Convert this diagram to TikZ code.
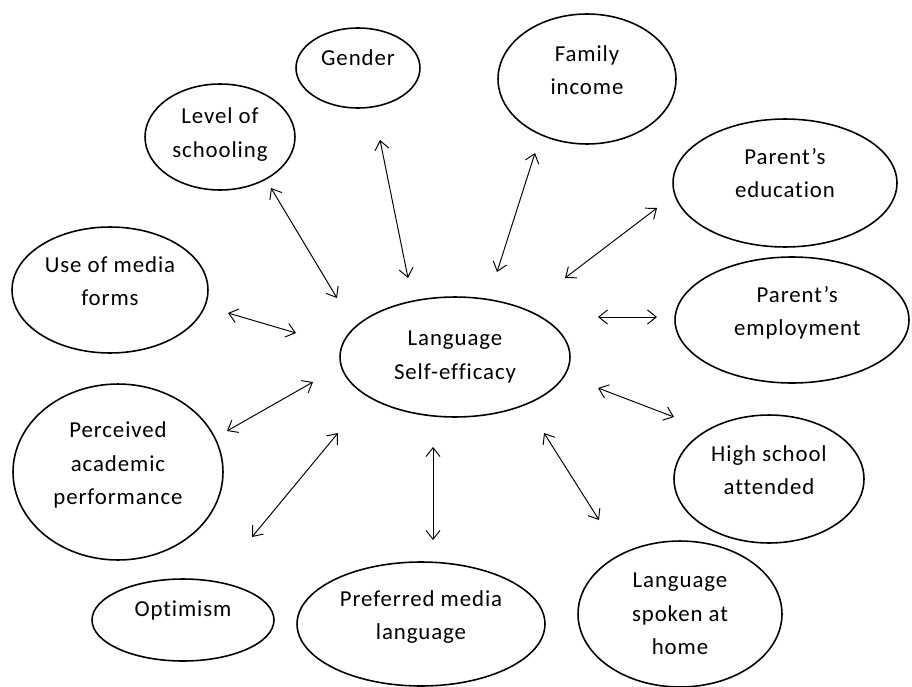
\documentclass[tikz,border=0pt]{standalone}
\usepackage{fontspec}
\setmainfont{Carlito}[Ligatures=NoCommon,LetterSpace=4]
\usetikzlibrary{shapes.geometric,arrows.meta}

\begin{document}
\begin{tikzpicture}[x=0.02cm,y=-0.02cm,
  bub/.style={draw, ellipse, line width=0.9pt, inner sep=0pt},
  txt/.style={align=center, font=\fontsize{13}{19}\selectfont},
  link/.style={{Straight Barb[length=5pt,width=8pt]}-{Straight Barb[length=5pt,width=8pt]}, line width=0.55pt}]
\useasboundingbox (0,0) rectangle (912,686);

% Central factor
\node[bub, minimum width=4.6cm, minimum height=2.4cm,
  label={[txt]center:Language\\Self-efficacy}] (lse) at (455,357) {};

% Factors around it
\node[bub, minimum width=2.48cm, minimum height=1.6cm,
  label={[txt,yshift=5.7pt]center:Gender}] (gender) at (358,68) {};
\node[bub, minimum width=3.0cm, minimum height=2.12cm,
  label={[txt,yshift=1.5pt]center:Level of\\schooling}] (school) at (220,137) {};
\node[bub, minimum width=3.92cm, minimum height=2.52cm,
  label={[txt,yshift=5.1pt]center:Use of media\\forms}] (media) at (110,290) {};
\node[bub, minimum width=3.56cm, minimum height=2.6cm,
  label={[txt,yshift=5.1pt]center:Family\\income}] (income) at (587,79) {};
\node[bub, minimum width=4.48cm, minimum height=2.56cm,
  label={[txt,yshift=5.7pt]center:Parent’s\\education}] (peduc) at (785,183) {};
\node[bub, minimum width=4.68cm, minimum height=2.52cm,
  label={[txt,yshift=4pt,xshift=3pt]center:Parent’s\\employment}] (pemploy) at (792,320) {};
\node[bub, minimum width=4.2cm, minimum height=3.52cm,
  label={[txt,yshift=4pt]center:Perceived\\academic\\performance}] (perf) at (118,472) {};
\node[bub, minimum width=3.64cm, minimum height=1.64cm,
  label={[txt,yshift=5.7pt]center:Optimism}] (optim) at (183,620) {};
\node[bub, minimum width=4.96cm, minimum height=2.48cm,
  label={[txt,yshift=4pt]center:Preferred media\\language}] (prefer) at (421,624) {};
\node[bub, minimum width=4.08cm, minimum height=2.92cm,
  label={[txt]center:Language\\spoken at\\home}] (home) at (680,614) {};
\node[bub, minimum width=3.8cm, minimum height=2.56cm,
  label={[txt,yshift=5.1pt]center:High school\\attended}] (hschool) at (769,479) {};

% Arrow ends
\coordinate (gender-a) at (380,140);  \coordinate (gender-b) at (408,278);
\coordinate (school-a) at (271,188);  \coordinate (school-b) at (337,298);
\coordinate (media-a) at (228,313);   \coordinate (media-b) at (296,333);
\coordinate (income-a) at (535,153);  \coordinate (income-b) at (497,272);
\coordinate (peduc-a) at (657,208);   \coordinate (peduc-b) at (565,278);
\coordinate (pemploy-a) at (657,317); \coordinate (pemploy-b) at (598,317);
\coordinate (perf-a) at (227,431);    \coordinate (perf-b) at (313,382);
\coordinate (optim-a) at (252,537);   \coordinate (optim-b) at (338,433);
\coordinate (prefer-a) at (433,540);  \coordinate (prefer-b) at (433,447);
\coordinate (hschool-a) at (674,417); \coordinate (hschool-b) at (598,388);
\coordinate (home-a) at (599,520);    \coordinate (home-b) at (544,433);

% Two-way links
\foreach \n in {gender,school,media,income,peduc,pemploy,perf,optim,prefer,hschool,home}
  \draw[link] (\n-a) -- (\n-b);

\end{tikzpicture}
\end{document}
